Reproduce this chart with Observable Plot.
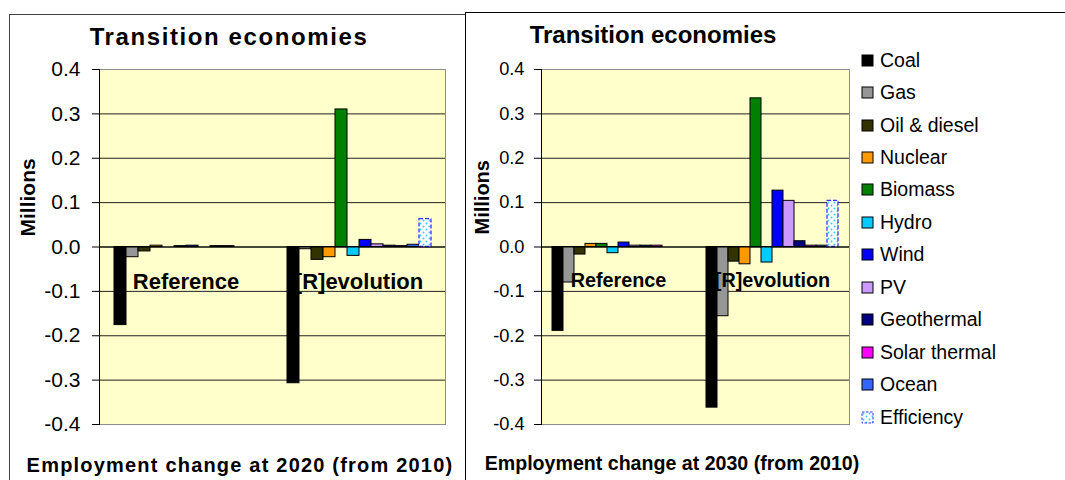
<!DOCTYPE html>
<html>
<head>
<meta charset="utf-8">
<script src="https://cdn.jsdelivr.net/npm/d3@7"></script>
<script src="https://cdn.jsdelivr.net/npm/@observablehq/plot@0.6"></script>
<style>
  html, body { margin: 0; padding: 0; background: #fff; }
  body { width: 1065px; height: 480px; position: relative; overflow: hidden; font-family: "Liberation Sans", Arial, sans-serif; color: #000; }
  .abs { position: absolute; }
  .title { font-weight: bold; white-space: nowrap; transform: translateX(-50%); line-height: 1; }
  #leftBox { left: 9px; top: 14px; width: 457px; height: 480px; border: 1px solid #404040; border-bottom: none; box-sizing: border-box; }
  #rightBox { left: 465px; top: 12px; width: 620px; height: 480px; border-left: 1px solid #000; border-top: 1px solid #000; box-sizing: border-box; }
  #legend { left: 862px; top: 44px; width: 260px; }
  .lg-swatches { font-family: "Liberation Sans", Arial, sans-serif; font-size: 19.5px; color: #000; margin: 0 !important; }
  .lg-swatch { height: 32.45px; display: flex; align-items: center; padding: 0 !important; }
  .lg-swatch svg { overflow: visible; margin-right: 7px !important; }
  .lg-swatch rect { stroke: #000; stroke-width: 1px; }
  .lg-swatch:last-child rect { stroke: #3333ff; stroke-dasharray: 2.5 1.5; }
  .lg-swatch-label { overflow: visible !important; text-overflow: clip !important; white-space: nowrap; }
</style>
</head>
<body>
<svg width="0" height="0" style="position:absolute">
  <defs>
    <pattern id="effdots" patternUnits="userSpaceOnUse" width="6" height="6">
      <rect width="6" height="6" fill="#ffffff"></rect>
      <circle cx="1.5" cy="1.5" r="1" fill="#33ccff"></circle>
      <circle cx="4.5" cy="4.5" r="1" fill="#33ccff"></circle>
    </pattern>
  </defs>
</svg>
<div id="leftBox" class="abs"></div>
<div id="rightBox" class="abs"></div>
<div id="leftChart" class="abs" style="left:0;top:0"></div>
<div id="rightChart" class="abs" style="left:466px;top:0"></div>
<div class="abs title" style="left:229px;top:25.4px;font-size:24px;letter-spacing:1.6px">Transition economies</div>
<div class="abs title" style="left:653px;top:23px;font-size:24px;">Transition economies</div>
<div class="abs title" style="left:240px;top:454.8px;font-size:20px;letter-spacing:1.2px">Employment change at 2020 (from 2010)</div>
<div class="abs title" style="left:672px;top:454px;font-size:19.6px;">Employment change at 2030 (from 2010)</div>
<div id="legend" class="abs"></div>
<script>
// ---- data ----
const techs = ["Coal", "Gas", "Oil & diesel", "Nuclear", "Biomass", "Hydro", "Wind", "PV", "Geothermal", "Solar thermal", "Ocean", "Efficiency"];
const techColors = ["#000000", "#969696", "#333300", "#ff9900", "#008000", "#00ccff", "#0000ff", "#cc99ff", "#000080", "#ff00ff", "#3366ff", "url(#effdots)"];
const scenarios = ["Reference", "[R]evolution"];
const ref2020 = [-0.176, -0.023, -0.010, 0.003, 0, 0.002, 0.003, 0, 0.002, 0.002, 0, 0];
const rev2020 = [-0.307, -0.005, -0.029, -0.023, 0.310, -0.020, 0.016, 0.006, 0.003, 0.002, 0.005, 0.063];
const ref2030 = [-0.189, -0.080, -0.017, 0.007, 0.007, -0.014, 0.010, 0.003, 0.003, 0.003, 0, 0];
const rev2030 = [-0.362, -0.156, -0.033, -0.039, 0.335, -0.035, 0.127, 0.104, 0.013, 0.003, 0.003, 0.104];
const yTicks = [0.4, 0.3, 0.2, 0.1, 0.0, -0.1, -0.2, -0.3, -0.4];
const yLabel = "Millions";

function rows(ref, rev) {
  const out = [];
  scenarios.forEach((s, si) => techs.forEach((t, ti) => out.push({scenario: s, tech: t, value: (si === 0 ? ref : rev)[ti]})));
  return out;
}

function panel(data, o) {
  const isEff = d => d.tech === "Efficiency";
  return Plot.plot({
    width: o.width,
    height: 480,
    marginLeft: o.marginLeft,
    marginRight: o.marginRight,
    marginTop: 69,
    marginBottom: 56,
    style: {background: "transparent", fontFamily: "Liberation Sans, Arial, sans-serif", color: "#000", overflow: "visible"},
    fx: {domain: scenarios, padding: 0, axis: null},
    x: {domain: techs, paddingInner: 0, paddingOuter: 0.75, axis: null},
    y: {domain: [-0.4, 0.4], axis: null},
    color: {domain: techs, range: techColors},
    marks: [
      Plot.frame({facet: "super", fill: "#ffffcc", stroke: "#8c8c8c"}),
      Plot.gridY(yTicks.filter(d => Math.abs(d) < 0.35), {stroke: "#222", strokeOpacity: 1}),
      Plot.barY(data.filter(d => !isEff(d)), {fx: "scenario", x: "tech", y: "value", fill: "tech", stroke: "#000", strokeWidth: 1}),
      Plot.barY(data.filter(isEff), {fx: "scenario", x: "tech", y: "value", fill: "tech", stroke: "#3333ff", strokeWidth: 1.3, strokeDasharray: "4,2"}),
      Plot.ruleY([0], {stroke: "#000"}),
      Plot.frame({facet: "super", anchor: "left", stroke: "#000"}),
      Plot.axisY(yTicks, {tickFormat: d => d.toFixed(1), tickSize: 7, tickPadding: o.tickPadding, fontSize: o.tickFont, label: null, stroke: "#000"}),
      Plot.text(scenarios, {fx: d => d, text: d => d, frameAnchor: "middle", dy: o.catDy, fontWeight: "bold", fontSize: o.catFont, fill: "#000"}),
      Plot.text([yLabel], {facet: "super", frameAnchor: "left", text: d => d, dx: o.milDx, dy: o.milDy, rotate: -90, fontWeight: "bold", fontSize: o.milFont, fill: "#000"})
    ]
  });
}

document.getElementById("leftChart").append(panel(rows(ref2020, rev2020), {
  width: 466, marginLeft: 99, marginRight: 21, tickPadding: 12, tickFont: 21,
  catFont: 22, catDy: 34.5, milFont: 21, milDx: -71, milDy: -10.5
}));
document.getElementById("rightChart").append(panel(rows(ref2030, rev2030), {
  width: 599, marginLeft: 75, marginRight: 216, tickPadding: 10, tickFont: 18.2,
  catFont: 19.8, catDy: 34, milFont: 20, milDx: -59, milDy: -12.5
}));

document.getElementById("legend").append(Plot.legend({
  color: {type: "ordinal", domain: techs, range: techColors},
  columns: 1,
  swatchSize: 11,
  className: "lg"
}));
</script>
</body>
</html>
